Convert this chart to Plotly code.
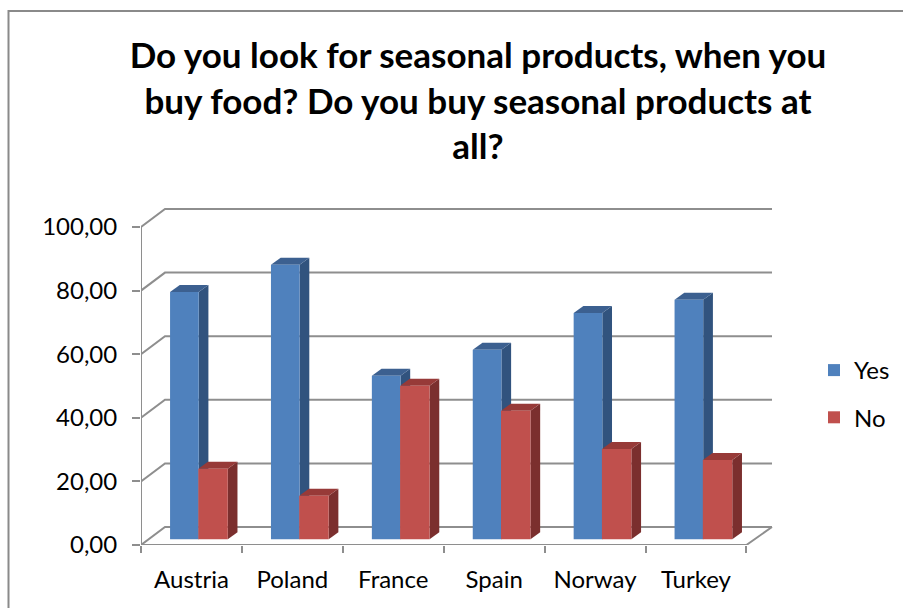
import plotly.graph_objects as go

countries = ["Austria", "Poland", "France", "Spain", "Norway", "Turkey"]
yes_values = [77.8, 86.3, 51.4, 59.6, 71.2, 75.3]
no_values = [22.2, 13.7, 48.3, 40.4, 28.4, 24.9]
y_ticks = [0, 20, 40, 60, 80, 100]
y_labels = ["0,00", "20,00", "40,00", "60,00", "80,00", "100,00"]
title_text = "Do you look for seasonal products, when you<br>buy food? Do you buy seasonal products at<br>all?"

W, H = 903, 608
L, R, T, B = 141, 900, 207, 545
WALL_R = 772
PX_X = 100.9
PX_Y = 3.18
XMAX = (R - L) / PX_X
XWALL = (WALL_R - L) / PX_X
YMAX = (B - T) / PX_Y
WALL_X = 24 / PX_X
WALL_Y = 18 / PX_Y
BAR_DX = 9.7 / PX_X
BAR_DY = 7 / PX_Y
BASE = 5.7 / PX_Y
GRID = "#8e8e8e"
x_mid = [i + 0.5 for i in range(len(countries))]

BLUE, BLUE_TOP, BLUE_SIDE = "#4f81bd", "#3c6090", "#31537e"
RED, RED_TOP, RED_SIDE = "#c0504d", "#973a38", "#7b2f2e"


def poly(points, fill=None, line=None, lw=2):
    d = "M" + " L".join(f"{x:.4f},{y:.4f}" for x, y in points)
    if fill:
        d += " Z"
    return dict(type="path", path=d, xref="x", yref="y", layer="below",
                fillcolor=fill if fill else "rgba(0,0,0,0)",
                line=dict(color=line if line else "rgba(0,0,0,0)", width=lw if line else 0))


shapes = []
for v in y_ticks[1:]:
    shapes.append(poly([(0, v), (WALL_X, v + WALL_Y), (XWALL, v + WALL_Y)], line=GRID))
n = len(countries)
shapes.append(poly([(XWALL, WALL_Y), (WALL_X, WALL_Y), (0, 0)], line=GRID))
shapes.append(poly([(XWALL, WALL_Y), (n, 0), (0, 0), (0, 100)], line=GRID))

Y_OFF, Y_W = -0.212, 0.284
N_OFF, N_W = 0.068, 0.292


def box_faces(xc, value, off, width, top_c, side_c):
    x0 = xc + off
    x1 = x0 + width
    y0 = BASE
    y1 = BASE + value
    return [
        poly([(x1, y0), (x1 + BAR_DX, y0 + BAR_DY), (x1 + BAR_DX, y1 + BAR_DY), (x1, y1)], fill=side_c),
        poly([(x0, y1), (x0 + BAR_DX, y1 + BAR_DY), (x1 + BAR_DX, y1 + BAR_DY), (x1, y1)], fill=top_c),
    ]


for xc, yv, nv in zip(x_mid, yes_values, no_values):
    shapes += box_faces(xc, yv, Y_OFF, Y_W, BLUE_TOP, BLUE_SIDE)
    shapes += box_faces(xc, nv, N_OFF, N_W, RED_TOP, RED_SIDE)

# outer frame: its right and bottom edges fall outside the picture
shapes.append(dict(type="rect", xref="paper", yref="paper", layer="below",
                   x0=(8.5 - L) / (R - L), x1=(920 - L) / (R - L),
                   y0=(B - 620) / (B - T), y1=(B - 11) / (B - T),
                   line=dict(color="#8a8a8a", width=2), fillcolor="rgba(0,0,0,0)"))

fig = go.Figure()
fig.add_bar(name="Yes", x=x_mid, y=yes_values, base=BASE, offset=Y_OFF, width=Y_W,
            marker=dict(color=BLUE, line=dict(width=0)), legendgroup="y", hovertemplate="%{y}<extra>Yes</extra>")
fig.add_bar(name="No", x=x_mid, y=no_values, base=BASE, offset=N_OFF, width=N_W,
            marker=dict(color=RED, line=dict(width=0)), legendgroup="n", hovertemplate="%{y}<extra>No</extra>")

font = "Lato, Carlito, Calibri, sans-serif"
fig.update_layout(
    width=W, height=H, autosize=False, barmode="overlay",
    margin=dict(l=L, r=W - R, t=T, b=H - B, pad=0),
    paper_bgcolor="white", plot_bgcolor="rgba(0,0,0,0)",
    font=dict(family=font, size=24, color="black"),
    title=dict(text=title_text, x=478 / W, xanchor="center", y=1 - 68 / H, yanchor="top",
               yref="container", font=dict(family=font, size=35, color="black", weight="bold")),
    xaxis=dict(range=[0, XMAX], tickmode="array", tickvals=x_mid, ticktext=countries, ticks="",
               showgrid=False, zeroline=False, showline=False, tickfont=dict(size=24),
               ticklabelstandoff=18,
               minor=dict(tickmode="array", tickvals=list(range(n + 1)), ticks="outside", ticklen=7,
                          tickcolor=GRID, tickwidth=2, showgrid=False)),
    yaxis=dict(range=[0, YMAX], tickmode="array", tickvals=y_ticks, ticktext=y_labels, ticks="outside",
               ticklen=8, tickcolor=GRID, tickwidth=2, showgrid=False, zeroline=False, showline=False,
               tickfont=dict(size=24), ticklabelstandoff=10),
    legend=dict(x=(814 - L) / (R - L), xanchor="left", y=(B - 348) / (B - T), yanchor="top",
                bgcolor="rgba(0,0,0,0)", tracegroupgap=13, font=dict(size=24), itemclick=False,
                itemdoubleclick=False, traceorder="grouped"),
    shapes=shapes, showlegend=True,
)

fig.write_html("out.html", config=dict(displayModeBar=False),
               post_script="document.body.style.margin='0';document.body.style.overflow='hidden';")
